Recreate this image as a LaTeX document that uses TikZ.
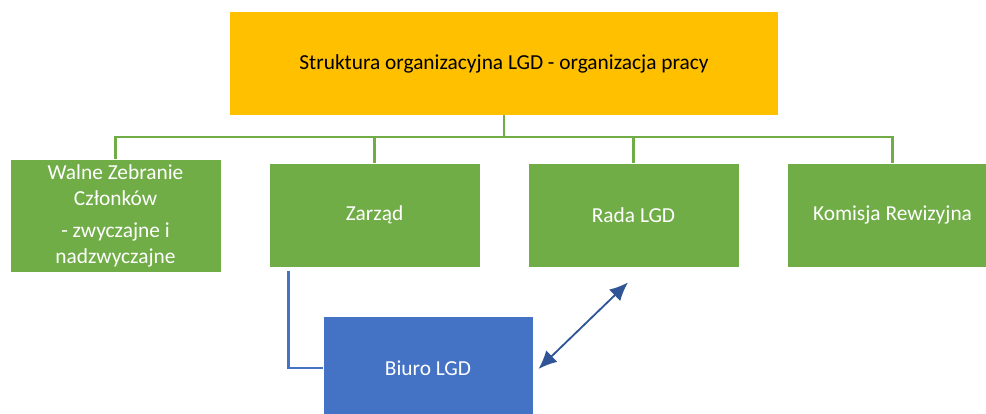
\documentclass[tikz,border=0pt]{standalone}
\usepackage{fontspec}
\setmainfont{Carlito}
\usetikzlibrary{arrows.meta,calc}

\definecolor{lgdorange}{HTML}{FFC000}
\definecolor{lgdgreen}{HTML}{70AD47}
\definecolor{lgdblue}{HTML}{4472C4}
\definecolor{lgddark}{HTML}{2F5597}

\tikzset{
  boxtext/.style={font=\fontsize{15.2}{18.6}\selectfont, align=center},
  headbox/.style={boxtext, fill=lgdorange, text=black, minimum width=13.7cm, minimum height=2.575cm},
  unitbox/.style={boxtext, draw=white, line width=0.6pt, fill=lgdgreen, text=white, minimum width=5.275cm, minimum height=2.6cm},
  officebox/.style={boxtext, draw=white, line width=0.6pt, fill=lgdblue, text=white, minimum width=5.25cm, minimum height=2.6cm},
  tree/.style={draw=lgdgreen, line width=2pt},
}

\begin{document}
\begin{tikzpicture}[x=0.025cm, y=-0.025cm]
  \useasboundingbox (0,0) rectangle (986,414);

  \node [headbox] (head) at (504,63.5) {Struktura organizacyjna LGD - organizacja pracy};

  \node [unitbox] (walne) at (115.5,216) {Walne Zebranie\\Członków\\[4.5pt]- zwyczajne i\\nadzwyczajne};
  \node [unitbox] (zarzad) at (374.5,215) {Zarząd};
  \node [unitbox] (rada) at (633.5,215) {Rada LGD};
  \node [unitbox] (komisja) at (892.5,215) {Komisja Rewizyjna};

  \node [officebox] (biuro) at (428,368) {Biuro LGD};

  % tree
  \coordinate (bar) at (504,137);
  \draw [tree] (head.south) -- (bar);
  \draw [tree] (walne.north) |- (bar) -| (komisja.north);
  \draw [tree] (zarzad.north) -- (zarzad.north |- bar);
  \draw [tree] (rada.north) -- (rada.north |- bar);

  % office
  \draw [draw=lgdblue, line width=2pt] ($(zarzad.south west)+(20,4)$) |- (biuro.west);
  \draw [lgddark, line width=1.3pt, {Latex[length=4.6mm,width=4mm]}-{Latex[length=4.6mm,width=4mm]}]
    ($(biuro.east)+(5,1)$) -- ($(rada.south)+(-5.5,15)$);

\end{tikzpicture}
\end{document}
